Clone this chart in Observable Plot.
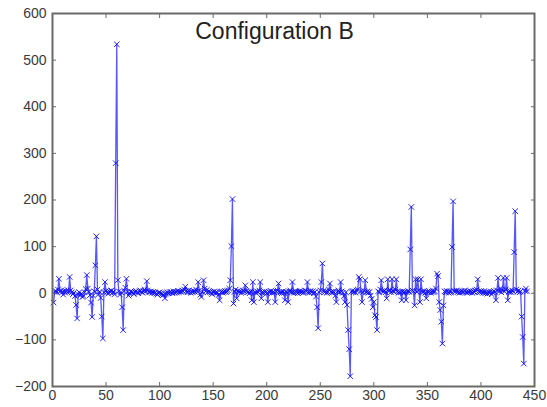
<!DOCTYPE html>
<html>
<head>
<meta charset="utf-8">
<script src="https://cdn.jsdelivr.net/npm/d3@7"></script>
<script src="https://cdn.jsdelivr.net/npm/@observablehq/plot@0.6"></script>
<style>
  html, body { margin: 0; padding: 0; background: #fff; }
  #chart { width: 547px; height: 407px; }
</style>
</head>
<body>
<div id="chart"></div>
<script>
const title = "Configuration B";
const xTicks = [0, 50, 100, 150, 200, 250, 300, 350, 400, 450];
const yTicks = [-200, -100, 0, 100, 200, 300, 400, 500, 600];
// sample values, index 1..443
const values = [
  -20, 3, 5, 2, 8, 31, 4, 6, 2, -3,
  5, 1, 4, 7, 3, 35, 6, 2, -2, 1,
  -6, -25, -54, -3, 2, -4, -1, -8, -6, 2,
  9, 39, 10, 3, -4, -20, -51, -5, 4, 60,
  122, 8, -2, 3, -10, -50, -97, 2, 24, 5,
  3, -1, 4, 2, 6, 1, 3, -2, 279, 534,
  28, 4, -3, 2, -30, -79, 5, 12, 31, 3,
  -5, 0, 4, 2, 1, -2, 3, 5, 2, 0,
  4, 6, 3, 1, 5, 8, 4, 26, 6, 3,
  2, 4, 1, 3, 0, 2, -1, -3, 1, 2,
  0, -2, -4, -3, -11, -1, 2, 0, 1, 3,
  2, 0, 4, 1, 3, 2, 5, 2, 4, 3,
  6, 4, 8, 14, 5, 2, 6, 3, 1, 4,
  2, 5, 3, 8, 4, 24, 6, -3, -8, 3,
  28, 10, 4, 7, 2, 5, 3, 1, -2, 2,
  4, 0, 3, 1, -4, -15, 2, 4, 1, 3,
  5, 2, 4, 6, 10, 28, 101, 202, -22, 3,
  8, -11, 5, 2, 4, 1, 3, 6, 4, 17,
  5, 2, 3, 0, 4, -15, 24, -19, 3, 1,
  4, 2, 6, 24, -11, 3, 1, 4, 2, 0,
  -19, 3, 2, 5, 1, 3, 2, -19, 4, 6,
  21, 3, 2, 0, 4, 1, -15, 3, 2, -19,
  4, 6, 2, 24, 3, 1, 4, 2, 0, 3,
  5, 2, 4, 1, 3, 6, 4, 24, 3, 1,
  5, 2, 4, 0, 3, -7, -30, -75, 2, 6,
  24, 64, 5, 2, 4, 1, 3, 8, 21, 3,
  1, 4, 2, -5, -19, 3, 6, 2, 24, 4,
  1, -6, -19, 2, -25, -79, -120, -178, 3, 5,
  2, 4, 1, 6, 8, 35, 30, 4, -19, 3,
  5, 28, 2, 4, 1, 3, -5, -12, -30, -19,
  -47, -51, -79, 4, 2, 8, 28, 5, 3, 6,
  2, -11, 30, 4, 7, 2, 30, 5, 3, 8,
  30, 4, 1, 3, 2, -15, 4, 1, 3, -15,
  2, 5, 3, 94, 185, 6, 4, -26, 30, 3,
  30, 6, -19, 30, 4, 2, 5, 1, -11, 3,
  2, 4, 1, 3, 6, 2, 4, 10, 42, 37,
  -19, -36, -61, -108, -26, 4, 2, 5, 3, 1,
  4, 2, 99, 197, 5, 3, 6, 2, 4, 1,
  3, 5, 2, 4, 6, 3, 1, 4, 2, 5,
  3, 1, 4, 2, 6, 8, 30, 4, 2, 5,
  3, 1, 4, 0, 2, -1, 3, 1, 4, -2,
  2, 5, 3, -15, 6, 33, 4, 10, 2, 7,
  33, 4, 8, 33, -15, 3, 5, 2, 6, 4,
  88, 176, 8, 3, 6, 2, 4, -50, -94, -151,
  5, 10, 4
];
const data = values.map((v, i) => ({x: i + 1, y: v}));

const lineColor = "#1010ff";
const frameColor = "#6a6a6a";
const font = "'Liberation Sans', Arial, sans-serif";

const chart = Plot.plot({
  width: 547,
  height: 407,
  marginLeft: 52,
  marginRight: 13,
  marginTop: 13,
  marginBottom: 21,
  style: {fontFamily: font, background: "#fff"},
  x: {domain: [0, 450]},
  y: {domain: [-200, 600]},
  marks: [
    Plot.line(data, {x: "x", y: "y", stroke: lineColor, strokeWidth: 1.3, strokeOpacity: 0.7}),
    Plot.dot(data, {x: "x", y: "y", symbol: "times", r: 2.6, stroke: lineColor, strokeWidth: 1, strokeOpacity: 0.9}),
    Plot.axisX({anchor: "bottom", ticks: xTicks, tickSize: -4, tickPadding: 8, fontSize: 14, color: "#3a3a3a", stroke: frameColor, label: null}),
    Plot.axisX({anchor: "top", ticks: xTicks, tickSize: -4, tickFormat: () => "", stroke: frameColor, label: null}),
    Plot.axisY({anchor: "left", ticks: yTicks, tickSize: -4, tickPadding: 10, fontSize: 14, color: "#3a3a3a", stroke: frameColor, label: null}),
    Plot.axisY({anchor: "right", ticks: yTicks, tickSize: -4, tickFormat: () => "", stroke: frameColor, label: null}),
    Plot.frame({stroke: frameColor, strokeWidth: 2}),
    Plot.text([title], {frameAnchor: "top-left", dx: 222, dy: 18, text: d => d, fontSize: 23, fill: "#222", textAnchor: "middle", lineAnchor: "middle"})
  ]
});
document.getElementById("chart").appendChild(chart);
</script>
</body>
</html>
